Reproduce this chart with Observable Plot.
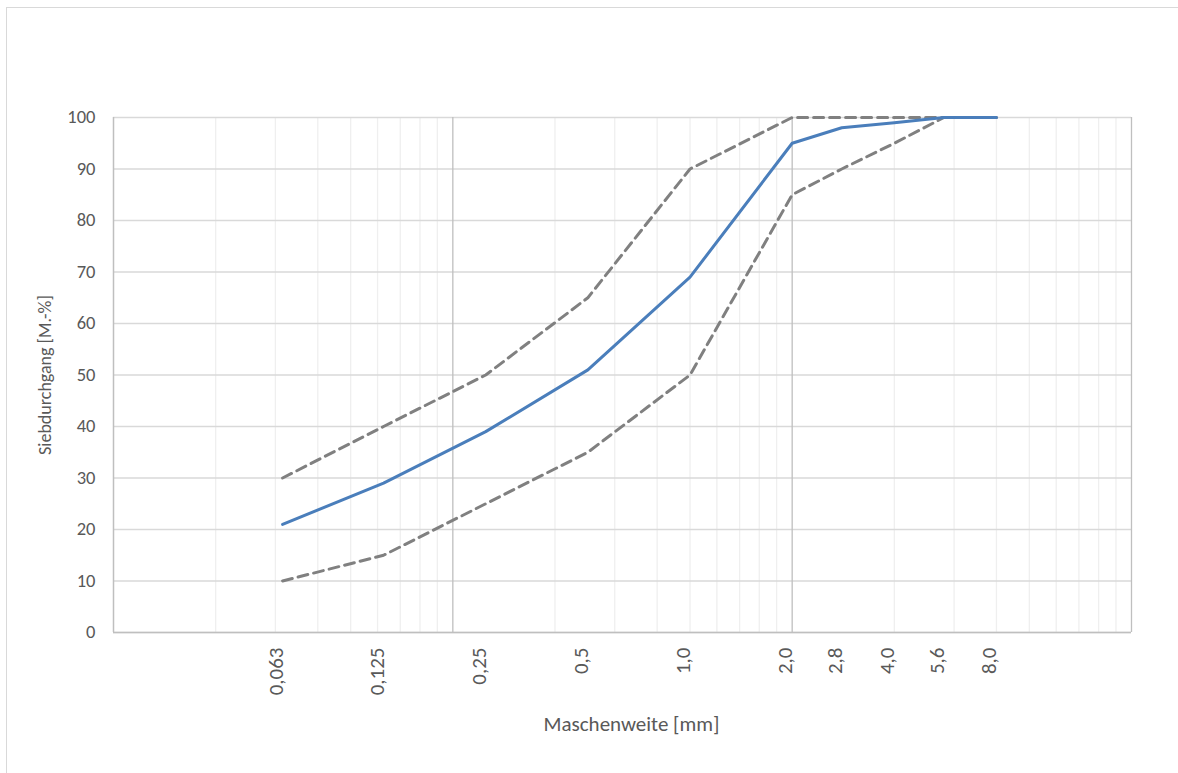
<!DOCTYPE html>
<html>
<head>
<meta charset="utf-8">
<script src="https://cdn.jsdelivr.net/npm/d3@7"></script>
<script src="https://cdn.jsdelivr.net/npm/@observablehq/plot@0.6"></script>
<style>
  html, body { margin: 0; padding: 0; background: #fff; }
  #frame { position: absolute; left: 6px; top: 7px; width: 1172px; height: 766px; border-left: 1px solid #d9d9d9; border-top: 1px solid #d9d9d9; box-sizing: border-box; }
  #chart { position: absolute; left: 0; top: 0; }
</style>
</head>
<body>
<div id="frame"></div>
<div id="chart"></div>
<script>
// Sieve sizes (mm) and their tick labels
const sizes = [0.063, 0.125, 0.25, 0.5, 1.0, 2.0, 2.8, 4.0, 5.6, 8.0];
const sizeLabels = ["0,063", "0,125", "0,25", "0,5", "1,0", "2,0", "2,8", "4,0", "5,6", "8,0"];
// Passing percentages
const sample = [21, 29, 39, 51, 69, 95, 98, 99, 100, 100];
const upperLimit = [30, 40, 50, 65, 90, 100, 100, 100, 100, 100];
const lowerLimit = [10, 15, 25, 35, 50, 85, 90, 95, 100, 100];
// Axis / grid values
const yTicks = [0, 10, 20, 30, 40, 50, 60, 70, 80, 90, 100];
const xDomain = [0.02, 20];
const majorGrid = [0.2, 2, 20];
const minorGrid = [0.04, 0.06, 0.08, 0.1, 0.12, 0.14, 0.16, 0.18,
                   0.4, 0.6, 0.8, 1, 1.2, 1.4, 1.6, 1.8,
                   4, 6, 8, 10, 12, 14, 16, 18];
const xTitle = "Maschenweite [mm]";
const yTitle = "Siebdurchgang [M.-%]";

const rows = (vals) => sizes.map((s, i) => ({x: s, y: vals[i]}));
const tickRows = sizes.map((s, i) => ({x: s, label: sizeLabels[i]}));

const font = "Carlito, Lato, sans-serif";
const fs = 18.5;
const txt = "#595959";

const chart = Plot.plot({
  width: 1178,
  height: 773,
  marginLeft: 113,
  marginRight: 47,
  marginTop: 117,
  marginBottom: 141,
  style: {fontFamily: font, fontSize: fs + "px", color: txt, background: "transparent"},
  x: {type: "log", domain: xDomain, axis: null},
  y: {domain: [0, 100], axis: null},
  marks: [
    Plot.ruleX(minorGrid, {stroke: "#efefef", strokeWidth: 1.3}),
    Plot.ruleY(yTicks, {stroke: "#d9d9d9", strokeWidth: 1.3}),
    Plot.ruleX(majorGrid, {stroke: "#bfbfbf", strokeWidth: 1.3}),
    Plot.ruleX([xDomain[0]], {stroke: "#bfbfbf", strokeWidth: 1.5}),
    Plot.ruleY([0], {stroke: "#bfbfbf", strokeWidth: 1.5}),
    Plot.axisY({ticks: yTicks, tickSize: 0, tickPadding: 18, fontSize: fs, label: null}),
    Plot.text(tickRows, {x: "x", text: "label", frameAnchor: "bottom", rotate: -90,
      textAnchor: "end", dy: 15, fontSize: 21, fill: txt}),
    Plot.text([xTitle], {text: d => d, frameAnchor: "bottom", textAnchor: "middle", dy: 98, dx: 9, fontSize: 21, fill: txt}),
    Plot.text([yTitle], {text: d => d, frameAnchor: "left", textAnchor: "middle", rotate: -90, dx: -68, fontSize: 18, fill: txt}),
    Plot.line(rows(upperLimit), {x: "x", y: "y", stroke: "#808080", strokeWidth: 3, strokeDasharray: "10,6"}),
    Plot.line(rows(lowerLimit), {x: "x", y: "y", stroke: "#808080", strokeWidth: 3, strokeDasharray: "10,6"}),
    Plot.line(rows(sample), {x: "x", y: "y", stroke: "#4a7ebb", strokeWidth: 3, strokeLinejoin: "round"})
  ]
});
document.getElementById("chart").appendChild(chart);
</script>
</body>
</html>
